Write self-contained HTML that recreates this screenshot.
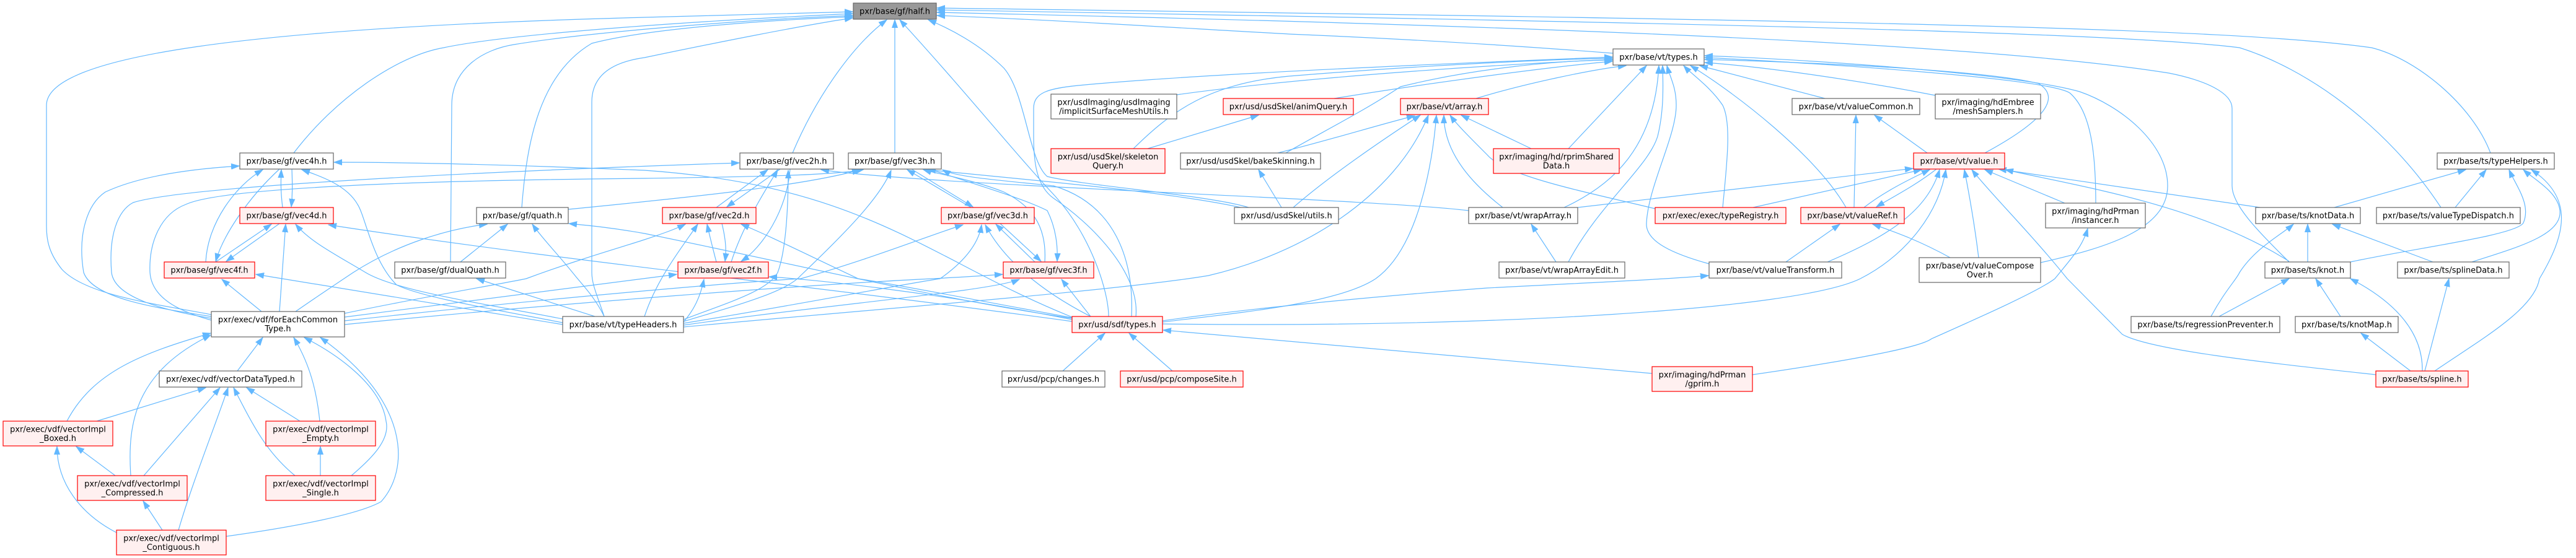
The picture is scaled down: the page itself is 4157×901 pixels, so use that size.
<!DOCTYPE html>
<html><head><meta charset="utf-8"><style>
html,body{margin:0;padding:0;background:#fff;}
svg{display:block;}
text{font-family:"DejaVu Sans","Liberation Sans",Arial,sans-serif;font-size:13px;fill:#000;text-anchor:middle;}
.e{fill:none;stroke:#63b8ff;stroke-width:1.2;marker-end:url(#ah);}
.n{fill:#fff;stroke:#666;stroke-width:1.2;}
.r{fill:#fff0f0;stroke:#ff0000;stroke-width:1.2;}
.g{fill:#999;stroke:#666;stroke-width:1.2;}
</style></head><body>
<svg width="4157" height="901" viewBox="0 0 4157 901" xmlns="http://www.w3.org/2000/svg">
<defs>
<marker id="ah" markerWidth="14" markerHeight="10" refX="13" refY="5" orient="auto" markerUnits="userSpaceOnUse"><path d="M0,0.5 L13,5 L0,9.5 z" fill="#63b8ff" stroke="#63b8ff" stroke-width="1"/></marker>
</defs>
<rect x="0" y="0" width="4157" height="901" fill="#fff"/>
<g>
<!-- into half.h -->
<path class="e" d="M341,508 C260,492 140,478 100,435 C80,410 75,390 75,365 L75,170 C75,90 400,45 1040,28 C1200,23 1300,20 1376,19"/>
<path class="e" d="M474,247 C540,160 640,90 716,77 C820,55 1100,35 1376,22"/>
<path class="e" d="M727,423 L729,170 C729,110 780,80 829,72 C950,52 1200,32 1376,25"/>
<path class="e" d="M842,335 C850,230 870,120 955,70 C1050,45 1250,32 1376,27"/>
<path class="e" d="M975,511 C965,480 955,460 955,440 L955,165 C955,120 990,100 1040,93 C1150,70 1300,40 1376,29"/>
<path class="e" d="M1279,247 C1320,150 1380,70 1431,32"/>
<path class="e" d="M1444,247 L1444,32"/>
<path class="e" d="M1789,511 C1789,470 1760,380 1703,317 C1640,250 1560,150 1452,32"/>
<path class="e" d="M2015,335 C1950,315 1750,300 1690,285 C1660,260 1655,150 1620,110 C1580,70 1530,45 1498,32"/>
<path class="e" d="M2603,86 C2400,70 2200,60 2080,55 C1900,45 1700,32 1512,25"/>
<path class="e" d="M4019,247 C3990,170 3900,95 3827,77 C3600,45 3000,33 1512,13"/>
<path class="e" d="M3939,335 C3850,200 3720,110 3614,77 C3400,50 2600,35 1512,16"/>
<path class="e" d="M3694,423 C3640,370 3602,330 3602,300 L3602,175 C3602,150 3560,130 3500,118 C3200,70 2500,42 1512,20"/>
<!-- forEachCommonType to vec via left -->
<path class="e" d="M341,511 C250,497 150,482 135,440 C125,380 140,330 170,310 C230,282 320,272 386,268"/>
<path class="e" d="M341,514 C270,502 185,482 180,440 C175,380 190,340 215,327 C300,300 800,276 1193,263"/>
<path class="e" d="M341,517 C290,503 245,482 242,440 C240,390 260,345 300,330 C360,302 700,291 1040,288 C1250,285 1350,282 1393,274"/>
<!-- vec4 cluster -->
<path class="e" d="M456,335 C453,310 453,295 454,274"/>
<path class="e" d="M471,273 C472,300 472,315 470,334"/>
<path class="e" d="M332,423 C335,360 380,300 424,274"/>
<path class="e" d="M451,273 C400,320 360,380 348,422"/>
<path class="e" d="M348,423 L438,362"/>
<path class="e" d="M451,361 L365,422"/>
<path class="e" d="M422,503 L358,451"/>
<path class="e" d="M451,503 C455,450 458,400 461,362"/>
<path class="e" d="M477,503 C510,480 540,460 570,440 C640,395 720,370 786,362"/>
<path class="e" d="M908,521 C800,500 680,480 640,460 C600,420 590,350 577,330 C560,300 520,285 487,274"/>
<path class="e" d="M908,515 C780,490 640,470 590,440 C540,410 500,390 477,362"/>
<path class="e" d="M908,524 L413,443"/>
<path class="e" d="M975,511 C960,480 940,460 928,445 C900,410 875,385 859,362"/>
<path class="e" d="M960,511 L769,450"/>
<path class="e" d="M743,423 L819,362"/>
<path class="e" d="M1730,514 C1500,480 1300,430 1040,377 C990,368 950,364 918,361"/>
<path class="e" d="M1730,512 C1500,420 1400,300 1040,275 C800,265 650,262 539,262"/>
<path class="e" d="M1730,519 C1300,460 900,420 530,363"/>
<path class="e" d="M917,338 C1100,320 1300,300 1388,274"/>
<!-- vec2 / vec3 from fECT, typeHeaders, sdf -->
<path class="e" d="M556,506 C680,480 800,460 849,450 C930,420 1000,400 1040,387 C1070,377 1090,370 1106,362"/>
<path class="e" d="M556,512 C800,480 1000,455 1092,443"/>
<path class="e" d="M556,518 C900,480 1200,455 1292,450 C1400,420 1500,380 1554,363"/>
<path class="e" d="M556,524 C900,490 1300,460 1504,450 C1560,447 1590,445 1618,443"/>
<path class="e" d="M1103,516 C1170,490 1240,470 1255,440 C1270,400 1272,320 1272,275"/>
<path class="e" d="M1040,511 C1060,450 1100,400 1126,362"/>
<path class="e" d="M1103,520 C1120,500 1130,480 1136,451"/>
<path class="e" d="M1103,519 C1200,490 1270,470 1292,445 C1360,380 1420,320 1438,275"/>
<path class="e" d="M1103,522 C1300,490 1450,460 1517,450 C1560,420 1580,390 1584,363"/>
<path class="e" d="M1103,525 C1350,490 1600,470 1645,451"/>
<path class="e" d="M1730,513 C1550,480 1450,460 1385,450 C1300,410 1240,380 1196,362"/>
<path class="e" d="M1730,516 C1500,470 1300,450 1241,447"/>
<path class="e" d="M1760,511 C1680,470 1620,420 1590,363"/>
<path class="e" d="M1760,511 L1713,451"/>
<path class="e" d="M1826,511 C1830,420 1800,330 1700,300 C1600,290 1540,285 1521,274"/>
<path class="e" d="M2370,340 C2200,320 1500,300 1325,274"/>
<path class="e" d="M2015,338 C1900,310 1650,290 1497,274"/>
<path class="e" d="M1156,335 L1239,274"/>
<path class="e" d="M1259,273 L1173,334"/>
<path class="e" d="M1180,423 C1200,360 1240,300 1255,274"/>
<path class="e" d="M1275,273 C1270,340 1230,400 1196,422"/>
<path class="e" d="M1156,423 C1150,400 1145,380 1141,362"/>
<path class="e" d="M1165,361 C1172,390 1172,405 1170,422"/>
<path class="e" d="M1567,335 L1464,274"/>
<path class="e" d="M1471,273 L1570,334"/>
<path class="e" d="M1670,423 L1607,362"/>
<path class="e" d="M1614,361 L1680,422"/>
<path class="e" d="M1686,423 C1690,360 1660,330 1620,310 C1570,290 1510,280 1490,274"/>
<path class="e" d="M1500,273 C1580,300 1650,320 1690,340 C1705,370 1707,400 1706,422"/>
<!-- into vt/types -->
<path class="e" d="M2153,159 C2300,135 2500,108 2602,99"/>
<path class="e" d="M2382,159 C2460,135 2570,112 2624,106"/>
<path class="e" d="M2531,240 L2657,106"/>
<path class="e" d="M2524,335 C2600,300 2670,240 2677,106"/>
<path class="e" d="M2531,423 C2580,330 2660,270 2675,220 C2685,180 2684,140 2683,106"/>
<path class="e" d="M2758,426 C2700,410 2655,390 2657,360 C2660,300 2705,220 2705,170 C2705,140 2695,125 2690,106"/>
<path class="e" d="M2780,335 C2786,270 2795,200 2780,170 C2760,140 2730,120 2717,106"/>
<path class="e" d="M2979,335 C2930,250 2800,150 2728,106"/>
<path class="e" d="M2945,159 L2743,106"/>
<path class="e" d="M3123,154 C3000,130 2850,108 2751,101"/>
<path class="e" d="M3203,247 C3290,200 3330,160 3290,135 C3200,112 2900,100 2751,96"/>
<path class="e" d="M3382,328 C3382,250 3375,180 3340,150 C3300,125 2900,100 2751,93"/>
<path class="e" d="M3293,424 C3400,400 3498,370 3498,300 C3498,230 3420,170 3356,148 C3250,118 2900,95 2751,90"/>
<path class="e" d="M1833,511 C1840,440 1760,360 1700,320 C1672,300 1668,260 1668,220 L1668,175 C1668,150 1690,143 1740,138 C1950,118 2400,100 2602,92"/>
<path class="e" d="M1899,153 C2100,125 2400,105 2602,96"/>
<path class="e" d="M1829,240 C1890,180 1950,135 2080,123 C2300,105 2500,96 2602,94"/>
<path class="e" d="M2075,247 C2130,215 2200,180 2260,140 C2380,110 2520,97 2602,97"/>
<!-- into vt/array -->
<path class="e" d="M2062,247 C2150,225 2230,200 2283,187"/>
<path class="e" d="M2087,335 C2150,280 2240,220 2292,186"/>
<path class="e" d="M2425,335 C2380,300 2330,250 2330,186"/>
<path class="e" d="M2671,337 C2560,310 2430,285 2400,250 C2370,220 2350,200 2340,186"/>
<path class="e" d="M2471,240 L2358,186"/>
<path class="e" d="M1876,520 C2000,505 2160,490 2220,450 C2290,400 2312,260 2318,186"/>
<path class="e" d="M1103,528 C1400,500 1800,470 1950,445 C2100,410 2250,320 2305,186"/>
<!-- valueCommon / value / valueRef -->
<path class="e" d="M2992,335 L2995,186"/>
<path class="e" d="M3110,247 L3025,186"/>
<path class="e" d="M2546,335 L3087,272"/>
<path class="e" d="M2829,335 L3101,274"/>
<path class="e" d="M3008,335 C3040,310 3080,290 3114,274"/>
<path class="e" d="M3125,273 C3090,300 3060,315 3028,334"/>
<path class="e" d="M2949,423 C3050,380 3110,340 3130,274"/>
<path class="e" d="M1876,523 C2400,530 2900,500 3002,450 C3080,410 3130,340 3140,274"/>
<path class="e" d="M3193,416 C3185,350 3175,300 3170,274"/>
<path class="e" d="M3834,605 C3650,585 3470,565 3425,540 L3336,450 C3280,380 3210,310 3182,274"/>
<path class="e" d="M3332,328 L3203,274"/>
<path class="e" d="M3694,422 C3550,330 3350,300 3236,274"/>
<path class="e" d="M3647,335 L3225,273"/>
<path class="e" d="M3147,416 C3100,390 3060,375 3022,362"/>
<path class="e" d="M2882,423 L2969,362"/>
<!-- ts -->
<path class="e" d="M3767,335 L3979,274"/>
<path class="e" d="M3962,335 L4012,274"/>
<path class="e" d="M3793,423 C3900,400 4060,380 4072,360 C4085,330 4060,300 4049,274"/>
<path class="e" d="M3989,423 C4060,400 4135,380 4131,340 C4128,310 4090,290 4072,274"/>
<path class="e" d="M3929,599 C4000,550 4090,500 4098,450 C4140,380 4155,320 4085,274"/>
<path class="e" d="M3724,423 L3724,362"/>
<path class="e" d="M3926,423 L3764,362"/>
<path class="e" d="M3568,511 C3590,470 3610,450 3614,440 C3640,400 3680,380 3701,362"/>
<path class="e" d="M3581,511 L3694,450"/>
<path class="e" d="M3777,511 L3737,450"/>
<path class="e" d="M3909,599 C3910,540 3870,490 3793,450"/>
<path class="e" d="M3890,599 L3810,538"/>
<path class="e" d="M3913,599 L3952,450"/>
<!-- misc -->
<path class="e" d="M2511,423 L2471,362"/>
<path class="e" d="M1852,240 L2031,186"/>
<path class="e" d="M2068,335 L2031,274"/>
<path class="e" d="M2828,605 C3000,580 3100,560 3117,547 C3200,510 3290,470 3316,450 C3340,420 3360,400 3369,369"/>
<path class="e" d="M2666,603 L1877,533"/>
<path class="e" d="M1715,599 L1783,538"/>
<path class="e" d="M1892,599 L1822,538"/>
<path class="e" d="M1876,518 C2000,500 2200,480 2400,465 C2600,455 2700,450 2757,445"/>
<!-- vdf cluster -->
<path class="e" d="M383,599 L424,545"/>
<path class="e" d="M108,680 C150,600 230,570 340,538"/>
<path class="e" d="M211,768 C205,680 220,600 340,541"/>
<path class="e" d="M516,680 C510,620 495,580 474,545"/>
<path class="e" d="M567,768 C600,740 630,710 623,680 C615,620 540,570 491,545"/>
<path class="e" d="M365,866 C480,850 580,830 615,810 C660,760 665,650 517,545"/>
<path class="e" d="M156,680 L332,626"/>
<path class="e" d="M232,768 L355,626"/>
<path class="e" d="M288,856 C310,780 350,680 368,626"/>
<path class="e" d="M476,768 C430,730 410,690 377,626"/>
<path class="e" d="M484,680 L398,626"/>
<path class="e" d="M186,768 L123,721"/>
<path class="e" d="M188,860 C130,830 92,780 92,721"/>
<path class="e" d="M517,768 L517,721"/>
<path class="e" d="M262,856 L231,809"/>
</g>
<g>
<rect class="g" x="1377" y="5" width="134" height="26"/><text x="1444" y="22.5">pxr/base/gf/half.h</text>
<rect class="n" x="2603" y="79" width="147" height="26"/><text x="2676.5" y="96.5">pxr/base/vt/types.h</text>
<rect class="n" x="1696" y="152" width="203" height="40"/><text x="1797.5" y="169.5">pxr/usdImaging/usdImaging</text><text x="1797.5" y="184">/implicitSurfaceMeshUtils.h</text>
<rect class="r" x="1974" y="159" width="210" height="26"/><text x="2079" y="176.5">pxr/usd/usdSkel/animQuery.h</text>
<rect class="r" x="2260" y="159" width="142" height="26"/><text x="2331" y="176.5">pxr/base/vt/array.h</text>
<rect class="n" x="2892" y="159" width="206" height="26"/><text x="2995" y="176.5">pxr/base/vt/valueCommon.h</text>
<rect class="n" x="3123" y="152" width="170" height="40"/><text x="3208" y="169.5">pxr/imaging/hdEmbree</text><text x="3208" y="184">/meshSamplers.h</text>
<rect class="n" x="387" y="247" width="151" height="26"/><text x="462.5" y="264.5">pxr/base/gf/vec4h.h</text>
<rect class="n" x="1194" y="247" width="151" height="26"/><text x="1269.5" y="264.5">pxr/base/gf/vec2h.h</text>
<rect class="n" x="1369" y="247" width="150" height="26"/><text x="1444" y="264.5">pxr/base/gf/vec3h.h</text>
<rect class="r" x="1696" y="240" width="184" height="40"/><text x="1788" y="257.5">pxr/usd/usdSkel/skeleton</text><text x="1788" y="272">Query.h</text>
<rect class="n" x="1905" y="247" width="226" height="26"/><text x="2018" y="264.5">pxr/usd/usdSkel/bakeSkinning.h</text>
<rect class="r" x="2410" y="240" width="203" height="40"/><text x="2511.5" y="257.5">pxr/imaging/hd/rprimShared</text><text x="2511.5" y="272">Data.h</text>
<rect class="r" x="3088" y="247" width="147" height="26"/><text x="3161.5" y="264.5">pxr/base/vt/value.h</text>
<rect class="n" x="3933" y="247" width="189" height="26"/><text x="4027.5" y="264.5">pxr/base/ts/typeHelpers.h</text>
<rect class="r" x="387" y="335" width="151" height="26"/><text x="462.5" y="352.5">pxr/base/gf/vec4d.h</text>
<rect class="n" x="769" y="335" width="148" height="26"/><text x="843" y="352.5">pxr/base/gf/quath.h</text>
<rect class="r" x="1069" y="335" width="151" height="26"/><text x="1144.5" y="352.5">pxr/base/gf/vec2d.h</text>
<rect class="r" x="1519" y="335" width="150" height="26"/><text x="1594" y="352.5">pxr/base/gf/vec3d.h</text>
<rect class="n" x="1992" y="335" width="168" height="26"/><text x="2076" y="352.5">pxr/usd/usdSkel/utils.h</text>
<rect class="n" x="2370" y="335" width="176" height="26"/><text x="2458" y="352.5">pxr/base/vt/wrapArray.h</text>
<rect class="r" x="2671" y="335" width="211" height="26"/><text x="2776.5" y="352.5">pxr/exec/exec/typeRegistry.h</text>
<rect class="r" x="2906" y="335" width="167" height="26"/><text x="2989.5" y="352.5">pxr/base/vt/valueRef.h</text>
<rect class="n" x="3301" y="328" width="161" height="40"/><text x="3381.5" y="345.5">pxr/imaging/hdPrman</text><text x="3381.5" y="360">/instancer.h</text>
<rect class="n" x="3640" y="335" width="169" height="26"/><text x="3724.5" y="352.5">pxr/base/ts/knotData.h</text>
<rect class="n" x="3835" y="335" width="232" height="26"/><text x="3951" y="352.5">pxr/base/ts/valueTypeDispatch.h</text>
<rect class="r" x="265" y="423" width="146" height="26"/><text x="338" y="440.5">pxr/base/gf/vec4f.h</text>
<rect class="n" x="637" y="423" width="179" height="26"/><text x="726.5" y="440.5">pxr/base/gf/dualQuath.h</text>
<rect class="r" x="1094" y="423" width="146" height="26"/><text x="1167" y="440.5">pxr/base/gf/vec2f.h</text>
<rect class="r" x="1619" y="423" width="146" height="26"/><text x="1692" y="440.5">pxr/base/gf/vec3f.h</text>
<rect class="n" x="2419" y="423" width="203" height="26"/><text x="2520.5" y="440.5">pxr/base/vt/wrapArrayEdit.h</text>
<rect class="n" x="2758" y="423" width="214" height="26"/><text x="2865" y="440.5">pxr/base/vt/valueTransform.h</text>
<rect class="n" x="3097" y="416" width="196" height="40"/><text x="3195" y="433.5">pxr/base/vt/valueCompose</text><text x="3195" y="448">Over.h</text>
<rect class="n" x="3655" y="423" width="138" height="26"/><text x="3724" y="440.5">pxr/base/ts/knot.h</text>
<rect class="n" x="3869" y="423" width="180" height="26"/><text x="3959" y="440.5">pxr/base/ts/splineData.h</text>
<rect class="n" x="341" y="503" width="215" height="41"/><text x="448.5" y="520.5">pxr/exec/vdf/forEachCommon</text><text x="448.5" y="535">Type.h</text>
<rect class="n" x="908" y="511" width="195" height="26"/><text x="1005.5" y="528.5">pxr/base/vt/typeHeaders.h</text>
<rect class="r" x="1730" y="511" width="146" height="26"/><text x="1803" y="528.5">pxr/usd/sdf/types.h</text>
<rect class="n" x="3439" y="511" width="240" height="26"/><text x="3559" y="528.5">pxr/base/ts/regressionPreventer.h</text>
<rect class="n" x="3704" y="511" width="166" height="26"/><text x="3787" y="528.5">pxr/base/ts/knotMap.h</text>
<rect class="n" x="257" y="599" width="230" height="26"/><text x="372" y="616.5">pxr/exec/vdf/vectorDataTyped.h</text>
<rect class="n" x="1617" y="599" width="166" height="26"/><text x="1700" y="616.5">pxr/usd/pcp/changes.h</text>
<rect class="r" x="1808" y="599" width="198" height="26"/><text x="1907" y="616.5">pxr/usd/pcp/composeSite.h</text>
<rect class="r" x="2666" y="592" width="162" height="40"/><text x="2747" y="609.5">pxr/imaging/hdPrman</text><text x="2747" y="624">/gprim.h</text>
<rect class="r" x="3834" y="599" width="149" height="26"/><text x="3908.5" y="616.5">pxr/base/ts/spline.h</text>
<rect class="r" x="5" y="680" width="177" height="40"/><text x="93.5" y="697.5">pxr/exec/vdf/vectorImpl</text><text x="93.5" y="712">_Boxed.h</text>
<rect class="r" x="429" y="680" width="177" height="40"/><text x="517.5" y="697.5">pxr/exec/vdf/vectorImpl</text><text x="517.5" y="712">_Empty.h</text>
<rect class="r" x="125" y="768" width="177" height="40"/><text x="213.5" y="785.5">pxr/exec/vdf/vectorImpl</text><text x="213.5" y="800">_Compressed.h</text>
<rect class="r" x="429" y="768" width="177" height="40"/><text x="517.5" y="785.5">pxr/exec/vdf/vectorImpl</text><text x="517.5" y="800">_Single.h</text>
<rect class="r" x="188" y="856" width="177" height="40"/><text x="276.5" y="873.5">pxr/exec/vdf/vectorImpl</text><text x="276.5" y="888">_Contiguous.h</text>
</g>
</svg>
</body></html>
